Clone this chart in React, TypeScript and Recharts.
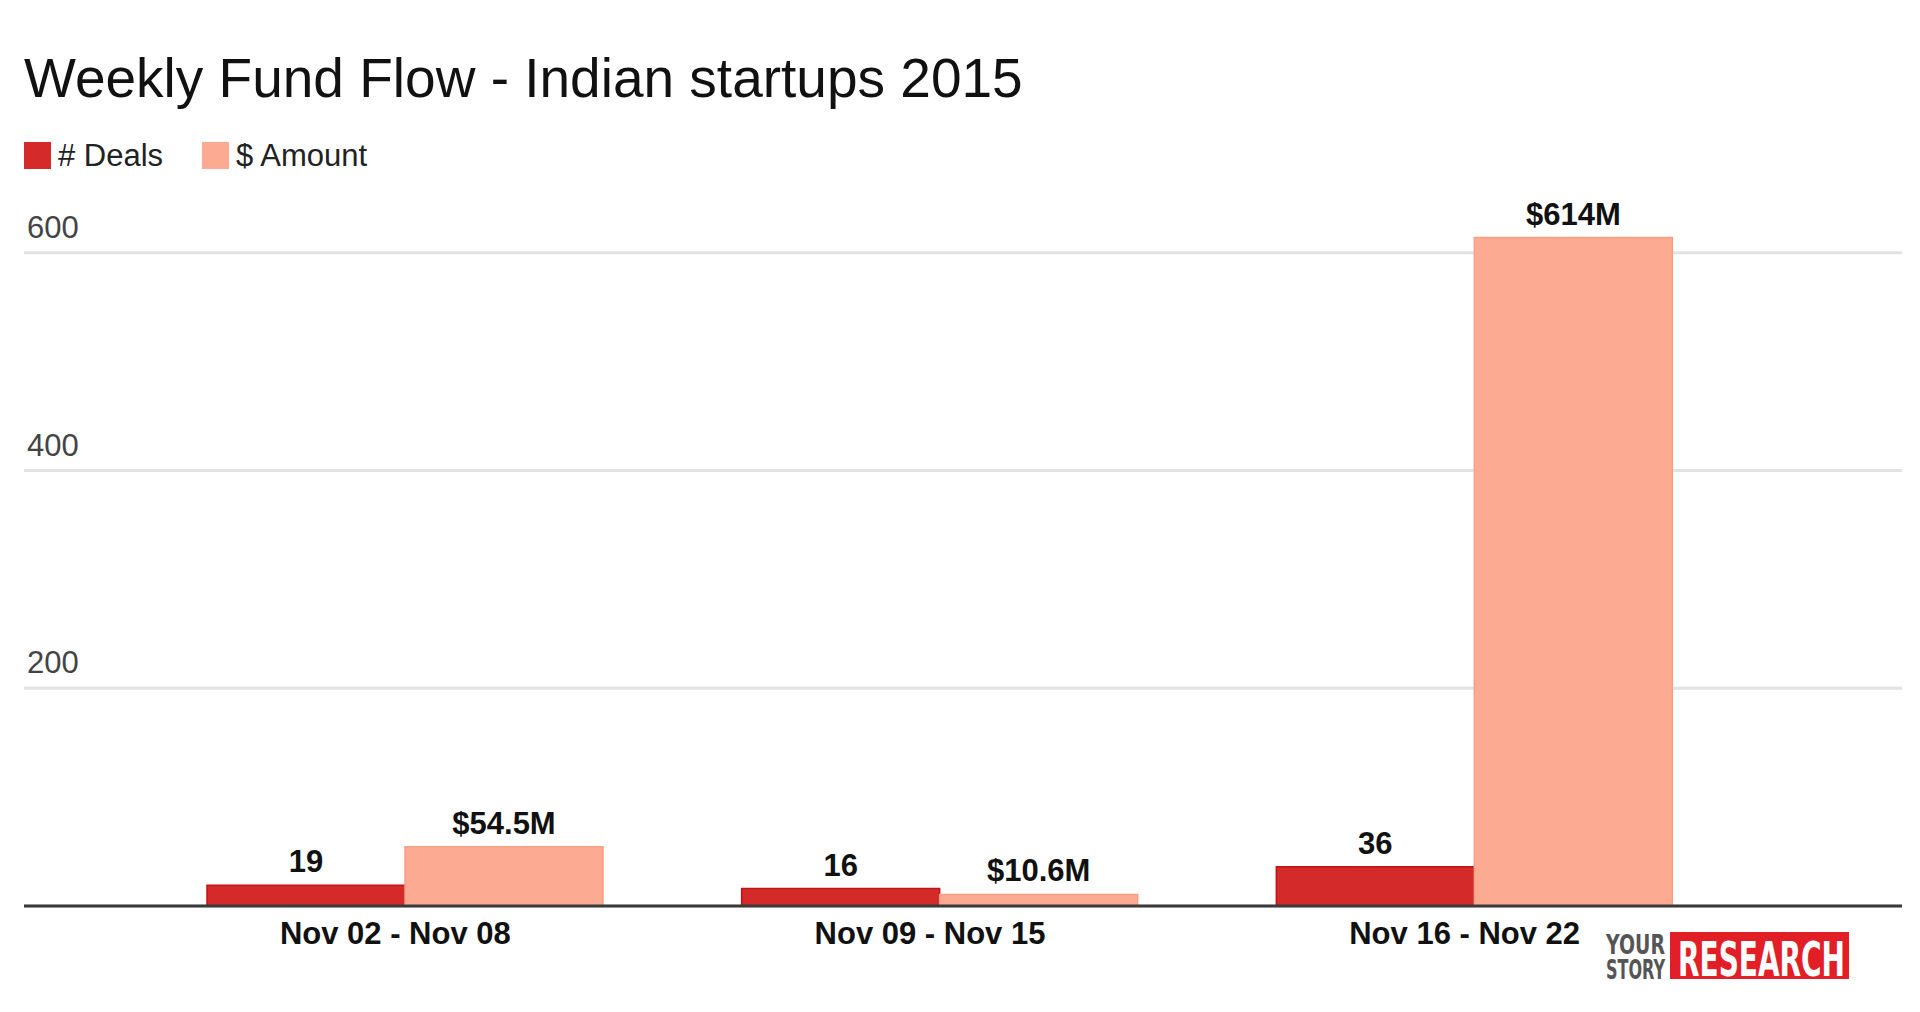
import { BarChart, Bar, XAxis, YAxis, CartesianGrid, ReferenceLine, LabelList } from 'recharts';

const WEEKS = ['Nov 02 - Nov 08', 'Nov 09 - Nov 15', 'Nov 16 - Nov 22'];
const DEALS = [19, 16, 36];
const AMOUNT = [54.5, 10.6, 614];
const Y_TICKS = [0, 200, 400, 600];

const FONT = '"Liberation Sans", Arial, Helvetica, sans-serif';
const LOGO_FONT = '"DejaVu Sans Condensed", "DejaVu Sans", sans-serif';
const RED = '#d42a2a';
const SALMON = '#fcab92';

const rows = WEEKS.map((week, i) => ({ week, deals: DEALS[i], amount: AMOUNT[i] }));

function YTick({ x, y, payload }: { x: number; y: number; payload: { value: number } }) {
  if (payload.value === 0) return <g />;
  return (
    <text x={x + 11} y={y - 15} fill="#444" fontSize={31} fontFamily={FONT} textAnchor="start">
      {payload.value}
    </text>
  );
}

function XTick({ x, y, payload }: { x: number; y: number; payload: { value: string } }) {
  return (
    <text x={x - 10} y={y + 30} fill="#111" fontSize={31} fontWeight="bold" fontFamily={FONT} textAnchor="middle">
      {payload.value}
    </text>
  );
}

function LegendItem({ color, label }: { color: string; label: string }) {
  return (
    <div style={{ display: 'flex', alignItems: 'center', height: 27 }}>
      <div style={{ width: 27, height: 27, background: color, marginRight: 7 }} />
      <span style={{ fontSize: 31, lineHeight: '27px', color: '#222' }}>{label}</span>
    </div>
  );
}

// squeezed text: scaled horizontally so its box matches the drawn width
function Squeezed({ x, y, size, fill, width, scale, children }: {
  x: number; y: number; size: number; fill: string; width: number; scale: number; children: string;
}) {
  return (
    <text
      transform={`translate(${x},${y}) scale(${scale},1)`}
      fontSize={size}
      fill={fill}
      fontFamily={LOGO_FONT}
      fontWeight="bold"
      textLength={width / scale}
      lengthAdjust="spacingAndGlyphs"
    >
      {children}
    </text>
  );
}

export default function App() {
  return (
    <div
      style={{
        position: 'absolute',
        top: 0,
        left: 0,
        width: 1920,
        height: 1012,
        background: '#fff',
        fontFamily: FONT,
        overflow: 'hidden',
      }}
    >
      <div
        style={{
          position: 'absolute',
          top: 51,
          left: 24,
          fontSize: 55,
          lineHeight: '55px',
          color: '#111',
          whiteSpace: 'nowrap',
        }}
      >
        Weekly Fund Flow - Indian startups 2015
      </div>

      <div style={{ position: 'absolute', top: 142, left: 24, display: 'flex', gap: 39 }}>
        <LegendItem color={RED} label="# Deals" />
        <LegendItem color={SALMON} label="$ Amount" />
      </div>

      <BarChart
        width={1920}
        height={1012}
        data={rows}
        margin={{ top: 144, right: 18, left: 23, bottom: 46 }}
        barCategoryGap={69}
        barGap={0}
      >
        <CartesianGrid vertical={false} stroke="#e2e2e2" strokeWidth={3} syncWithTicks />
        <XAxis
          dataKey="week"
          height={60}
          padding={{ left: 114, right: 160 }}
          axisLine={false}
          tickLine={false}
          tick={XTick}
          interval={0}
        />
        <YAxis
          width={1}
          domain={[0, 700]}
          ticks={Y_TICKS}
          interval={0}
          axisLine={false}
          tickLine={false}
          tick={YTick}
        />
        <Bar dataKey="deals" fill={RED} stroke="#c01515" strokeWidth={1.5} isAnimationActive={false}>
          <LabelList
            dataKey="deals"
            position="top"
            offset={13}
            fill="#111"
            fontSize={31}
            fontWeight="bold"
            fontFamily={FONT}
          />
        </Bar>
        <Bar dataKey="amount" fill={SALMON} stroke="#f5a085" strokeWidth={1.5} isAnimationActive={false}>
          <LabelList
            dataKey="amount"
            position="top"
            offset={13}
            fill="#111"
            fontSize={31}
            fontWeight="bold"
            fontFamily={FONT}
            formatter={(v: number) => `$${v}M`}
          />
        </Bar>
        <ReferenceLine y={0} stroke="#3a3a3a" strokeWidth={3} />
      </BarChart>

      {/* YourStory Research logo */}
      <svg style={{ position: 'absolute', left: 1596, top: 912 }} width={270} height={96}>
        <Squeezed x={10} y={42} size={26} fill="#555" width={59} scale={0.77}>YOUR</Squeezed>
        <Squeezed x={10} y={67} size={26} fill="#555" width={59} scale={0.65}>STORY</Squeezed>
        <rect x={74} y={20} width={179} height={47} fill="#e21e26" />
        <Squeezed x={82} y={64} size={48} fill="#fff" width={167} scale={0.65}>RESEARCH</Squeezed>
      </svg>
    </div>
  );
}
